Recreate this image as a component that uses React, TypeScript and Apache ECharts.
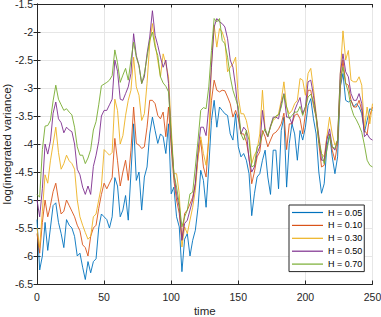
import React, { useEffect, useRef } from "react";
import * as echarts from "echarts";

const STEP = 2;
const SERIES_NAMES = ["H = 0.05", "H = 0.10", "H = 0.30", "H = 0.50", "H = 0.70"];
const COLORS = ["#0072BD", "#D95319", "#EDB120", "#7E2F8E", "#77AC30"];
const X_TICKS = [0, 50, 100, 150, 200, 250];

const h005 = [
  -5.35, -6.25, -6.0, -5.4, -5.9, -5.5, -5.1, -5.05, -5.4, -5.6,
  -5.85, -5.35, -5.45, -5.5, -5.65, -6.0, -5.95, -6.2, -6.42, -6.1,
  -6.3, -6.1, -6.05, -5.5, -5.25, -5.3, -5.35, -5.5, -5.3, -4.6,
  -4.75, -5.3, -5.18, -4.92, -5.36, -4.53, -3.64, -4.65, -4.5, -5.18,
  -4.59, -4.41, -3.82, -3.52, -3.76, -3.99, -3.82, -3.87, -4.17, -3.64,
  -4.89, -4.77, -5.3, -5.48, -6.28, -5.7, -5.6, -6.0, -5.72, -5.54,
  -5.13, -4.47, -4.65, -5.13, -4.41, -3.58, -3.22, -3.7, -3.34, -3.4,
  -3.46, -3.49, -3.82, -3.93, -3.46, -4.05, -4.23, -4.17, -4.29, -4.53,
  -5.28, -4.89, -4.59, -4.53, -4.29, -4.11, -4.59, -4.9, -4.11, -4.11,
  -4.8, -3.76, -3.52, -4.77, -3.99, -3.64, -3.82, -4.29, -3.76, -3.93,
  -3.7, -3.31, -3.19, -3.55, -3.82, -4.5, -4.88, -4.71, -4.05, -3.82,
  -4.23, -4.53, -4.23, -2.98, -2.74, -3.22, -3.25, -3.22, -3.34, -3.28,
  -3.34, -3.46, -3.79, -3.58, -3.37, -3.4,
];
const h010 = [
  -5.6, -5.95, -5.4, -5.0, -5.3, -5.1, -4.85, -4.7, -5.0, -5.25,
  -5.2, -5.0, -5.1, -5.2, -5.3, -5.45, -5.55, -5.8, -5.85, -6.0,
  -5.65, -5.5, -5.45, -5.15, -4.9, -4.7, -4.8, -4.7, -4.6, -3.9,
  -4.3, -4.75, -4.5, -4.29, -4.65, -4.11, -3.34, -3.99, -4.02, -4.08,
  -4.05, -3.7, -3.22, -3.22, -3.28, -3.49, -3.55, -3.43, -3.87, -3.34,
  -4.05, -4.65, -5.0, -5.24, -5.72, -5.24, -5.18, -5.07, -4.95, -4.71,
  -4.23, -3.93, -4.41, -4.59, -3.87, -3.22, -2.86, -3.04, -3.07, -3.04,
  -3.05, -3.16, -3.28, -3.52, -3.4, -3.55, -3.82, -3.82, -3.96, -4.23,
  -4.71, -4.5, -4.23, -4.14, -3.76, -3.87, -4.05, -3.93, -3.82, -3.79,
  -3.73, -3.64, -3.45, -4.1, -3.64, -3.64, -3.49, -3.46, -3.55, -3.82,
  -3.46, -3.04, -3.04, -3.31, -3.52, -3.99, -4.41, -4.38, -3.87, -3.82,
  -4.11, -4.29, -3.99, -2.98, -2.5, -2.92, -2.95, -3.22, -3.34, -3.34,
  -3.22, -3.4, -3.76, -3.82, -3.49, -3.34,
];
const h030 = [
  -5.5, -5.85, -5.2, -4.55, -4.7, -4.3, -4.0, -3.7, -4.15, -4.45,
  -4.35, -4.2, -4.3, -4.35, -4.45, -5.0, -5.3, -5.45, -5.58, -5.7,
  -5.65, -5.3, -5.25, -5.0, -4.75, -4.1, -4.15, -4.2, -4.15, -3.2,
  -3.4, -4.0, -3.85, -3.49, -3.22, -3.04, -2.45, -2.98, -3.13, -3.58,
  -3.46, -2.92, -2.21, -1.85, -2.21, -2.51, -2.8, -2.39, -2.57, -2.8,
  -3.7, -4.53, -4.53, -4.89, -5.84, -5.48, -5.6, -5.36, -5.13, -4.83,
  -4.23, -3.87, -4.17, -4.38, -3.93, -2.57, -1.88, -2.27, -1.94, -2.0,
  -2.15, -2.71, -2.63, -2.57, -2.45, -3.16, -3.46, -3.46, -3.58, -3.82,
  -4.35, -4.2, -4.11, -3.82, -3.04, -3.76, -3.87, -3.68, -3.58, -3.53,
  -3.46, -3.22, -2.89, -3.34, -3.46, -3.4, -3.28, -3.22, -2.83, -2.86,
  -3.13, -2.74, -2.65, -3.01, -3.46, -3.87, -4.17, -4.23, -3.87, -3.52,
  -3.82, -4.02, -3.93, -2.74, -1.98, -2.5, -2.33, -2.86, -2.89, -2.89,
  -2.8, -2.95, -3.73, -3.34, -3.64, -3.28,
];
const h050 = [
  -5.0, -5.3, -4.8, -4.0, -4.18, -3.95, -3.45, -3.25, -3.55, -3.62,
  -3.8, -3.7, -3.75, -3.78, -4.0, -4.45, -4.55, -4.77, -4.9, -4.75,
  -4.9, -4.4, -4.2, -3.95, -3.5, -3.4, -3.4, -3.3, -3.2, -2.5,
  -2.7, -3.2, -3.22, -3.1, -2.98, -2.74, -2.03, -2.42, -2.6, -2.92,
  -2.8, -2.39, -2.09, -1.62, -2.06, -2.24, -2.45, -2.63, -2.5, -2.92,
  -3.93, -4.53, -4.89, -5.13, -5.72, -5.42, -5.36, -5.18, -5.0, -4.71,
  -4.11, -3.7, -3.7, -3.85, -3.34, -2.63, -1.91, -1.76, -1.82, -1.85,
  -1.91, -2.12, -2.5, -2.63, -2.98, -3.46, -3.82, -3.7, -3.76, -4.29,
  -4.5, -4.41, -4.17, -4.05, -3.4, -3.76, -3.87, -3.68, -3.52, -3.52,
  -3.55, -3.28, -3.1, -3.52, -3.52, -3.64, -3.4, -3.28, -3.17, -3.46,
  -3.34, -2.89, -2.86, -3.13, -3.49, -3.87, -4.29, -4.29, -3.93, -3.73,
  -4.05, -4.11, -3.93, -2.74, -2.39, -2.71, -2.8, -3.1, -3.22, -3.22,
  -3.1, -3.28, -3.87, -3.82, -3.9, -3.93,
];
const h070 = [
  -4.9, -4.95, -4.1, -3.68, -3.67, -3.58, -3.23, -2.95, -3.2, -3.3,
  -3.4, -3.37, -3.43, -3.48, -3.7, -4.05, -4.2, -4.2, -4.35, -4.25,
  -4.1, -3.75, -3.6, -3.3, -2.96, -2.93, -2.9, -2.86, -2.78, -2.32,
  -2.55, -2.9, -2.77, -2.65, -2.86, -2.5, -2.18, -2.45, -2.6, -2.92,
  -2.74, -2.45, -2.15, -2.0, -2.27, -2.42, -2.8, -2.91, -2.97, -3.07,
  -3.82, -4.53, -4.77, -5.07, -5.48, -5.3, -5.18, -4.89, -4.86, -4.41,
  -3.93, -3.4, -3.35, -3.37, -2.98, -2.33, -1.76, -1.82, -1.76, -2.15,
  -2.21, -2.45, -2.8, -3.04, -3.19, -3.34, -3.82, -3.93, -3.76, -3.93,
  -4.41, -4.38, -4.05, -4.0, -3.82, -3.73, -3.85, -3.7, -3.55, -3.5,
  -3.48, -3.34, -3.11, -3.34, -3.55, -3.49, -3.43, -3.43, -3.33, -3.49,
  -3.34, -3.16, -3.11, -3.25, -3.52, -3.96, -4.17, -4.35, -4.11, -3.85,
  -4.05, -4.08, -3.93, -2.86, -2.63, -2.92, -3.07, -3.34, -3.49, -3.57,
  -3.67, -3.79, -4.02, -4.29, -4.38, -4.41,
];

const ALL = [h005, h010, h030, h050, h070];

const AXIS_COLOR = "#262626";
const FONT = "'Liberation Sans', Arial, Helvetica, sans-serif";

export default function App() {
  const ref = useRef<HTMLDivElement>(null);
  useEffect(() => {
    document.body.style.margin = "0";
    if (!ref.current) return;
    const chart = echarts.init(ref.current, undefined, { renderer: "svg" });
    const axisCommon = {
      axisLine: { show: true, lineStyle: { color: AXIS_COLOR, width: 1 } },
      axisTick: { show: true, inside: true, length: 3.5, lineStyle: { color: AXIS_COLOR } },
    };
    chart.setOption({
      animation: false,
      backgroundColor: "#ffffff",
      textStyle: { fontFamily: FONT },
      grid: { left: 37, right: 8.5, top: 4, bottom: 33, outerBoundsMode: "none", containLabel: false },
      legend: {
        data: SERIES_NAMES,
        orient: "vertical",
        left: 289,
        top: 205,
        icon: "path://M0,0H31V1.2H0Z",
        itemWidth: 31,
        itemHeight: 10,
        itemGap: 3.9,
        padding: [3, 2, 3, 3],
        borderColor: AXIS_COLOR,
        borderWidth: 1,
        borderRadius: 0,
        backgroundColor: "#ffffff",
        textStyle: { fontSize: 9, color: "#000000", fontFamily: FONT },
      },
      xAxis: [
        {
          type: "value",
          min: 0,
          max: 250,
          interval: 50,
          position: "bottom",
          name: "time",
          nameLocation: "middle",
          nameGap: 21,
          nameMoveOverlap: false,
          nameTextStyle: { fontSize: 11.5, color: AXIS_COLOR, fontFamily: FONT },
          ...axisCommon,
          axisLabel: {
            fontSize: 10.5,
            color: AXIS_COLOR,
            margin: 7,
            fontFamily: FONT,
            formatter: (v: number) => (X_TICKS.includes(v) ? String(v) : ""),
          },
          splitLine: { show: true, lineStyle: { color: "#e6e6e6", width: 1 } },
        },
        {
          type: "value",
          min: 0,
          max: 250,
          interval: 50,
          position: "top",
          ...axisCommon,
          axisLabel: { show: false },
          splitLine: { show: false },
        },
      ],
      yAxis: [
        {
          type: "value",
          min: -6.5,
          max: -1.5,
          interval: 0.5,
          position: "left",
          name: "log(integrated variance)",
          nameLocation: "middle",
          nameGap: 24,
          nameMoveOverlap: false,
          nameTextStyle: { fontSize: 11.5, color: AXIS_COLOR, fontFamily: FONT },
          ...axisCommon,
          axisLabel: { fontSize: 10.5, color: AXIS_COLOR, margin: 4, fontFamily: FONT },
          splitLine: { show: true, lineStyle: { color: "#e6e6e6", width: 1 } },
        },
        {
          type: "value",
          min: -6.5,
          max: -1.5,
          interval: 0.5,
          position: "right",
          ...axisCommon,
          axisLabel: { show: false },
          splitLine: { show: false },
        },
      ],
      series: ALL.map((vals, i) => ({
        name: SERIES_NAMES[i],
        type: "line",
        xAxisIndex: 0,
        yAxisIndex: 0,
        data: vals.map((v, k) => [k * STEP, v]),
        showSymbol: false,
        symbol: "none",
        lineStyle: { color: COLORS[i], width: 0.9 },
        itemStyle: { color: COLORS[i] },
        z: 2 + i,
      })),
    });
    return () => chart.dispose();
  }, []);
  return <div ref={ref} style={{ width: 381, height: 317 }} />;
}
